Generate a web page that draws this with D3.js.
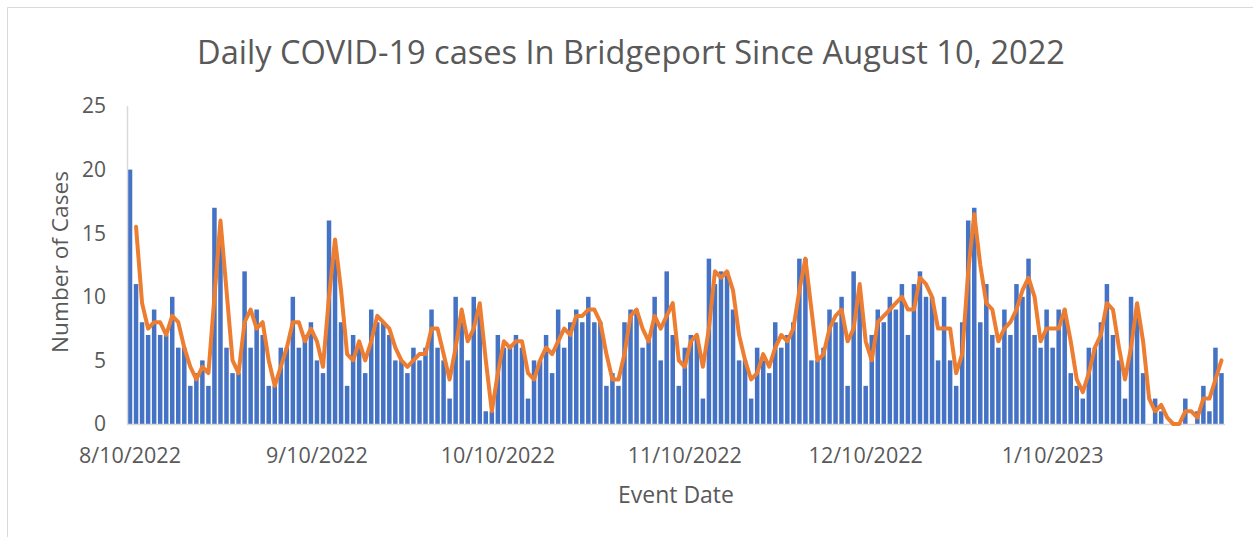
<!DOCTYPE html>
<html>
<head>
<meta charset="utf-8">
<script src="https://cdn.jsdelivr.net/npm/d3@7"></script>
<style>
	body { margin: 0; background: #fff; }
	svg text { font-family: 'Open Sans', 'Liberation Sans', sans-serif; fill: #595959; }
</style>
</head>
<body>
<div class="box"></div>
<script>
// daily cases, one value per day starting 8/10/2022
var startDate = '8/10/2022';
var cases = [
	20, 11, 8, 7, 9, 7, 7, 10, 6, 6, 3, 4, 5, 3, 17, 15, 6, 4, 4, 12,
	6, 9, 7, 3, 3, 6, 6, 10, 6, 7, 8, 5, 4, 16, 13, 8, 3, 7, 6, 4,
	9, 8, 8, 7, 5, 5, 4, 6, 5, 6, 9, 6, 5, 2, 10, 8, 5, 10, 9, 1,
	1, 7, 6, 6, 7, 6, 2, 5, 5, 7, 4, 9, 6, 8, 9, 8, 10, 8, 8, 3,
	4, 3, 8, 9, 9, 6, 7, 10, 5, 12, 7, 3, 6, 7, 7, 2, 13, 11, 12, 12,
	9, 5, 5, 2, 6, 5, 4, 8, 6, 7, 8, 13, 13, 5, 5, 6, 9, 8, 10, 3,
	12, 10, 3, 7, 9, 8, 10, 9, 11, 7, 11, 12, 10, 10, 5, 10, 5, 3, 8, 16,
	17, 8, 11, 7, 6, 9, 7, 11, 10, 13, 7, 6, 9, 6, 9, 9, 4, 3, 2, 6,
	6, 8, 11, 7, 5, 2, 10, 9, 4, 0, 2, 1, 0, 0, 0, 2, 0, 1, 3, 1,
	6, 4
];
var xTickLabels = ['8/10/2022', '9/10/2022', '10/10/2022', '11/10/2022', '12/10/2022', '1/10/2023'];
var yTicks = [0, 5, 10, 15, 20, 25];

var titleText = 'Daily COVID-19 cases In Bridgeport Since August 10, 2022';
var xTitle = 'Event Date';
var yTitle = 'Number of Cases';

var width = 1253, height = 537;
var parse = d3.timeParse('%m/%d/%Y');
var day0 = parse(startDate);

var points = cases.map(function(v, i) {
	return {date: d3.timeDay.offset(day0, i), value: v};
});

// 2 period moving average trendline (as excel draws it)
var avg = [];
for (var i = 1; i < points.length; i++) {
	avg.push({date: points[i].date, value: (points[i].value + points[i - 1].value) / 2});
}

var svg = d3.select('.box')
	.append('svg')
	.attr('width', width)
	.attr('height', height);

// chart frame, only top and left edges show in the picture
svg.append('path')
	.attr('d', 'M7.5,537V7.5H1253')
	.style('fill', 'none')
	.style('stroke', '#d9d9d9');

var x = d3.scaleTime()
	.domain([d3.timeHour.offset(day0, -12), d3.timeHour.offset(points[points.length - 1].date, 12)])
	.range([127, 1224.5]);

var y = d3.scaleLinear()
	.domain([0, 25])
	.range([424, 106]);

// fit a text element to a given width by changing its font size
function fit(sel, w) {
	var len = sel.node().getComputedTextLength();
	var fs = parseFloat(sel.style('font-size'));
	sel.style('font-size', (fs * w / len) + 'px');
	return fs * w / len;
}

var title = svg.append('text')
	.attr('x', 631)
	.attr('y', 64)
	.attr('text-anchor', 'middle')
	.style('font-size', '30px')
	.text(titleText);
fit(title, 868);

svg.selectAll('rect.bar')
	.data(points)
	.enter()
	.append('rect')
		.attr('class', 'bar')
		.attr('x', function(d) { return x(d.date) - 2.25; })
		.attr('y', function(d) { return y(d.value); })
		.attr('width', 4.5)
		.attr('height', function(d) { return y(0) - y(d.value); })
		.style('fill', '#4472C4');

// axis lines
svg.append('line')
	.attr('x1', 127.5).attr('y1', y(25))
	.attr('x2', 127.5).attr('y2', y(0))
	.style('stroke', '#d9d9d9')
	.style('stroke-width', 1.5);

svg.append('line')
	.attr('x1', 127).attr('y1', y(0) + 0.5)
	.attr('x2', 1225).attr('y2', y(0) + 0.5)
	.style('stroke', '#d9d9d9')
	.style('stroke-width', 1.5);

var line = d3.line()
	.x(function(d) { return x(d.date); })
	.y(function(d) { return y(d.value); });

svg.append('path')
	.datum(avg)
	.attr('d', line)
	.style('fill', 'none')
	.style('stroke', '#ED7D31')
	.style('stroke-width', 4)
	.style('stroke-linejoin', 'round')
	.style('stroke-linecap', 'round');

// x tick labels
var xt = svg.selectAll('text.xtick')
	.data(xTickLabels)
	.enter()
	.append('text')
		.attr('class', 'xtick')
		.attr('x', function(d) { return x(parse(d)); })
		.attr('y', 463)
		.attr('text-anchor', 'middle')
		.style('font-size', '20px')
		.text(function(d) { return d; });
var tickSize = fit(d3.select(xt.node()), 102);
xt.style('font-size', tickSize + 'px');

// y tick labels
svg.selectAll('text.ytick')
	.data(yTicks)
	.enter()
	.append('text')
		.attr('class', 'ytick')
		.attr('x', 106)
		.attr('y', function(d) { return y(d); })
		.attr('dy', '0.35em')
		.attr('text-anchor', 'end')
		.style('font-size', (tickSize - 0.5) + 'px')
		.text(function(d) { return d; });

var xTitleText = svg.append('text')
	.attr('x', 676)
	.attr('y', 503)
	.attr('text-anchor', 'middle')
	.style('font-size', '20px')
	.text(xTitle);
fit(xTitleText, 116);

var yTitleText = svg.append('text')
	.attr('transform', 'translate(68,262) rotate(-90)')
	.attr('text-anchor', 'middle')
	.style('font-size', '20px')
	.text(yTitle);
fit(yTitleText, 182);
</script>
</body>
</html>
